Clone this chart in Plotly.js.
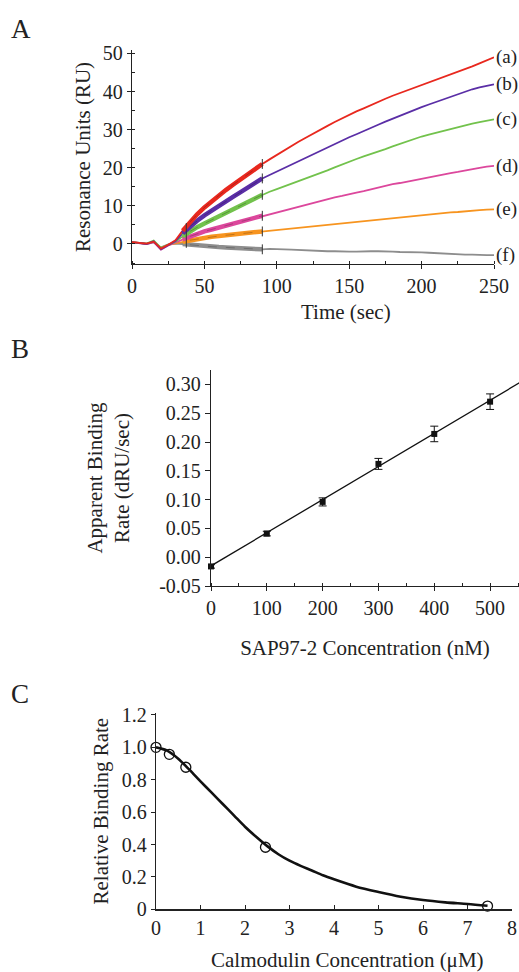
<!DOCTYPE html>
<html>
<head>
<meta charset="utf-8">
<script src="https://cdn.plot.ly/plotly-3.0.1.min.js"></script>
<style>html,body{margin:0;padding:0;background:#fff}#chart{width:519px;height:972px}</style>
</head>
<body>
<div id="chart"></div>
<script>
// ---------- Panel A data: SPR sensorgrams ----------
const timeSec = [0,5,10,15,20,25,30,35,40,45,50,55,60,65,70,75,80,85,90,95,100,105,110,115,120,125,130,135,140,145,150,155,160,165,170,175,180,185,190,195,200,205,210,215,220,225,230,235,240,245,250];
const curveA = [0.5,0.3,0.1,0.6,-1.2,-0.2,1.0,3.5,5.8,7.8,9.6,11.2,12.8,14.2,15.6,17.0,18.4,19.8,21.0,22.2,23.4,24.6,25.7,26.8,27.9,29.0,30.0,31.0,32.0,33.0,33.9,34.8,35.6,36.5,37.3,38.1,38.9,39.6,40.3,41.0,41.6,42.3,43.0,43.7,44.4,45.1,45.8,46.6,47.4,48.2,49.0];
const curveB = [0.4,0.3,0.0,0.7,-1.4,-0.3,0.8,2.8,4.6,6.1,7.5,8.8,10.0,11.2,12.4,13.6,14.8,16.0,17.2,18.1,19.0,20.0,21.0,21.9,22.8,23.6,24.5,25.4,26.3,27.2,28.0,28.8,29.7,30.5,31.3,32.1,32.9,33.7,34.4,35.2,35.9,36.6,37.3,38.0,38.7,39.4,40.0,40.6,41.1,41.6,41.9];
const curveC = [0.4,0.2,0.1,0.9,-1.0,-0.2,0.6,2.0,3.3,4.4,5.4,6.3,7.2,8.1,9.0,10.0,11.0,12.0,12.9,13.7,14.4,15.1,15.8,16.4,17.1,17.7,18.5,19.3,20.1,20.9,21.6,22.3,23.0,23.6,24.3,24.9,25.6,26.3,26.9,27.6,28.2,28.7,29.2,29.7,30.1,30.6,31.1,31.6,32.0,32.4,32.7];
const curveD = [0.4,0.2,0.0,0.5,-1.5,-0.4,0.4,1.2,2.0,2.7,3.3,3.8,4.3,4.8,5.3,5.9,6.4,6.9,7.4,7.8,8.2,8.7,9.2,9.7,10.2,10.7,11.2,11.7,12.2,12.6,13.1,13.5,13.9,14.4,14.8,15.3,15.7,16.0,16.4,16.7,17.1,17.5,17.8,18.2,18.6,18.9,19.3,19.6,20.0,20.3,20.5];
const curveE = [0.5,0.3,0.1,0.6,-1.1,-0.2,0.2,0.6,1.0,1.3,1.6,1.9,2.1,2.3,2.5,2.7,2.9,3.1,3.3,3.5,3.7,3.8,4.0,4.2,4.4,4.6,4.8,5.0,5.3,5.5,5.7,5.9,6.1,6.3,6.5,6.7,6.9,7.0,7.2,7.4,7.6,7.7,7.9,8.1,8.3,8.4,8.6,8.7,8.9,9.0,9.1];
const curveF = [0.5,0.2,0.0,0.4,-0.9,-0.1,0.1,0.0,-0.2,-0.4,-0.5,-0.7,-0.8,-0.9,-1.0,-1.1,-1.3,-1.4,-1.4,-1.3,-1.3,-1.4,-1.5,-1.6,-1.7,-1.7,-1.8,-1.9,-1.9,-2.0,-2.0,-2.0,-1.9,-1.9,-1.9,-1.9,-2.0,-2.1,-2.1,-2.2,-2.2,-2.3,-2.4,-2.5,-2.7,-2.8,-2.8,-2.8,-2.9,-2.9,-2.9];
const curveLabels = ['(a)','(b)','(c)','(d)','(e)','(f)'];
const curveColors = ['#e8281e','#5a2ea6','#72c24c','#dc479c','#f7941f','#8d8d8d'];
const fitStartTime = 37.5;
const fitEndTime = 90;
const fitStartSpan = [-1.0, 5.5];

// ---------- Panel B data: binding rate vs SAP97-2 ----------
const sapConc = [0,100,200,300,400,500];
const bindRate = [-0.016,0.041,0.096,0.162,0.214,0.270];
const bindErr = [0.003,0.004,0.007,0.0095,0.0135,0.0135];
const fitLineX = [0,560];
const fitLineY = [-0.015,0.307];
const yTicksB = [-0.05,0,0.05,0.10,0.15,0.20,0.25,0.30];
const yTickTextB = ['-0.05','0.00','0.05','0.10','0.15','0.20','0.25','0.30'];

// ---------- Panel C data: calmodulin inhibition ----------
const camConc = [0,0.3,0.67,2.46,7.45];
const relRate = [1.0,0.957,0.877,0.383,0.02];
const camCurveX = [0,0.25,0.5,0.75,1.0,1.25,1.5,1.75,2.0,2.25,2.5,2.75,3.0,3.25,3.5,3.75,4.0,4.5,5.0,5.5,6.0,6.5,7.0,7.45];
const camCurveY = [1.0,0.98,0.93,0.862,0.79,0.72,0.65,0.58,0.51,0.448,0.39,0.34,0.30,0.268,0.24,0.21,0.185,0.14,0.107,0.078,0.057,0.043,0.033,0.022];
const yTicksC = [0,0.2,0.4,0.6,0.8,1.0,1.2];
const yTickTextC = ['0','0.2','0.4','0.6','0.8','1.0','1.2'];

// ---------- layout helpers ----------
const W = 519, H = 972;
const xd = (a,b) => [a/W, b/W];
const yd = (top,bottom) => [1-bottom/H, 1-top/H];
const FONT = '"Liberation Serif", "Times New Roman", Times, serif';
const INK = '#222';

const series = [curveF, curveE, curveD, curveC, curveB, curveA];
const seriesIdx = [5,4,3,2,1,0];
const traces = [];
const i0 = timeSec.indexOf(35), i1 = timeSec.indexOf(fitEndTime);

seriesIdx.forEach((k, j) => {
  const ys = series[j];
  traces.push({x: timeSec, y: ys, xaxis:'x', yaxis:'y', mode:'lines',
    line:{color: curveColors[k], width:1.8}, hoverinfo:'skip', showlegend:false});
});
seriesIdx.forEach((k, j) => {
  const ys = series[j];
  traces.push({x: timeSec.slice(i0, i1+1), y: ys.slice(i0, i1+1), xaxis:'x', yaxis:'y', mode:'lines',
    line:{color: curveColors[k], width:4.5}, hoverinfo:'skip', showlegend:false});
  traces.push({x: timeSec.slice(i0+1, i1+1), y: ys.slice(i0+1, i1+1), xaxis:'x', yaxis:'y', mode:'lines',
    line:{color:'rgba(0,0,0,0.28)', width:0.8, dash:'dash'}, hoverinfo:'skip', showlegend:false});
  traces.push({x:[fitEndTime, fitEndTime], y:[ys[i1]-1.3, ys[i1]+1.3], xaxis:'x', yaxis:'y', mode:'lines',
    line:{color:'#333', width:1}, hoverinfo:'skip', showlegend:false});
});
traces.push({x:[fitStartTime, fitStartTime], y: fitStartSpan, xaxis:'x', yaxis:'y', mode:'lines',
  line:{color:'#333', width:1}, hoverinfo:'skip', showlegend:false});

// Panel B
traces.push({x: fitLineX, y: fitLineY, xaxis:'x2', yaxis:'y2', mode:'lines',
  line:{color:'#111', width:1.3}, hoverinfo:'skip', showlegend:false});
traces.push({x: sapConc, y: bindRate, xaxis:'x2', yaxis:'y2', mode:'markers',
  marker:{symbol:'square', size:6, color:'#111'},
  error_y:{type:'data', array: bindErr, visible:true, color:'#111', thickness:1, width:4},
  showlegend:false, cliponaxis:false});

// Panel C
traces.push({x: camCurveX, y: camCurveY, xaxis:'x3', yaxis:'y3', mode:'lines',
  line:{color:'#111', width:2.6, shape:'spline', smoothing:0.8}, hoverinfo:'skip', showlegend:false});
traces.push({x: camConc, y: relRate, xaxis:'x3', yaxis:'y3', mode:'markers',
  marker:{symbol:'circle-open', size:10, color:'#111', line:{width:1.3, color:'#111'}},
  showlegend:false, cliponaxis:false});

const tickFont = {family: FONT, size: 20, color: INK};
const titleFont = {family: FONT, size: 21, color: INK};
const baseAxis = {showline:true, linecolor:INK, linewidth:1.2, showgrid:false, zeroline:false,
  ticks:'outside', ticklen:4, tickwidth:1, tickcolor:INK, tickfont: tickFont, fixedrange:true};

const annotations = [];
[curveA, curveB, curveC, curveD, curveE, curveF].forEach((ys, k) => {
  annotations.push({x: timeSec[timeSec.length-1], y: ys[ys.length-1], xref:'x', yref:'y',
    text: curveLabels[k], showarrow:false, xanchor:'left', xshift:0, font:{family:FONT, size:19, color:INK}});
});
const panelLetter = (t, px, py) => ({x: px/W, y: 1-py/H, xref:'paper', yref:'paper', text:t, showarrow:false,
  xanchor:'left', yanchor:'middle', font:{family:FONT, size:27, color:INK}});
annotations.push(panelLetter('A', 9, 29));
annotations.push(panelLetter('B', 9, 349));
annotations.push(panelLetter('C', 9, 694));
annotations.push({x: 346/W, y: 1-312/H, xref:'paper', yref:'paper', text:'Time (sec)', showarrow:false,
  xanchor:'center', yanchor:'middle', font:titleFont});
annotations.push({x: 347/W, y: 1-960/H, xref:'paper', yref:'paper', text:'Calmodulin Concentration (\u03BCM)', showarrow:false,
  xanchor:'center', yanchor:'middle', font:titleFont});

const layout = {
  width: W, height: H, margin:{l:0, r:0, t:0, b:0}, paper_bgcolor:'#fff', plot_bgcolor:'#fff',
  showlegend:false, font:{family:FONT, color:INK},
  xaxis: Object.assign({}, baseAxis, {domain: xd(132,494), range:[0,250], dtick:50, tick0:0, anchor:'y',
    minor:{dtick:25, ticks:'inside', ticklen:3, tickcolor:INK}}),
  yaxis: Object.assign({}, baseAxis, {domain: yd(50,264), range:[-5.25,50.9], dtick:10, tick0:0, anchor:'x',
    minor:{dtick:5, ticks:'inside', ticklen:3, tickcolor:INK},
    title:{text:'Resonance Units (RU)', font:titleFont, standoff:6}}),
  xaxis2: Object.assign({}, baseAxis, {domain: xd(211,519), range:[0,551.8], dtick:100, tick0:0, anchor:'y2',
    minor:{dtick:50, ticks:'inside', ticklen:3, tickcolor:INK},
    title:{text:'SAP97-2 Concentration (nM)', font:titleFont, standoff:22}}),
  yaxis2: Object.assign({}, baseAxis, {domain: yd(370,586), range:[-0.05,0.325], tickvals:yTicksB, ticktext:yTickTextB,
    anchor:'x2', ticklen:5,
    title:{text:'Apparent Binding<br>Rate (dRU/sec)', font:titleFont, standoff:23}}),
  xaxis3: Object.assign({}, baseAxis, {domain: xd(156,512), range:[0,8], dtick:1, tick0:0, anchor:'y3', ticks:'inside'}),
  yaxis3: Object.assign({}, baseAxis, {domain: yd(713,909.3), range:[0,1.212], tickvals:yTicksC, ticktext:yTickTextC,
    anchor:'x3',
    title:{text:'Relative Binding Rate', font:titleFont, standoff:7}}),
  annotations: annotations
};

Plotly.newPlot('chart', traces, layout, {displayModeBar:false, staticPlot:true});
</script>
</body>
</html>
